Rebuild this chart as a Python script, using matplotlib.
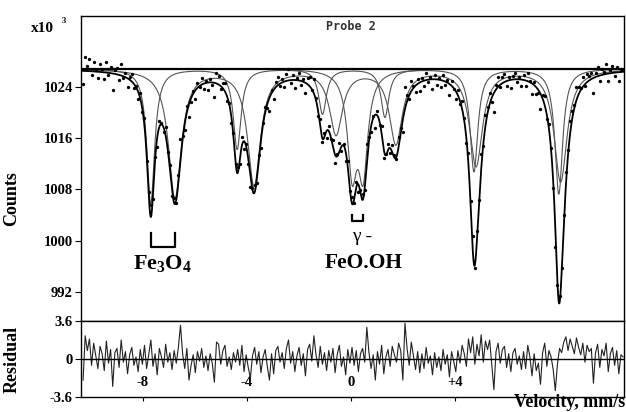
import numpy as np
import matplotlib.pyplot as plt

# velocity range of the spectrum (mm/s), 256 channels
v_min, v_max, n_chan = -10.3, 10.45, 256
baseline = 1026.8  # x10^3 counts

# sub-spectra: line positions (mm/s), depths (x10^3 counts), half widths (mm/s)
siteA_pos = [-7.70, -4.38, -1.10, 1.30, 4.72, 7.98]
siteA_depth = [21.0, 12.5, 7.0, 7.5, 16.0, 19.5]
siteA_hw = 0.18
siteB_pos = [-6.77, -3.73, -0.58, 1.72, 4.80, 8.05]
siteB_depth = [20.0, 18.0, 10.0, 11.5, 15.0, 17.5]
siteB_hw = 0.30
doublet_pos = [0.04, 0.46]
doublet_depth = [15.0, 15.0]
doublet_hw = 0.22

# residual per channel (x10^3 counts)
residual = [
    -2.0, 2.2, 0.8, 1.9, -0.6, 1.5, 0.3, -0.9, 1.2, 0.5, -1.1, 1.7, -0.4, 0.9, -2.6, 0.6,
    1.0, -0.8, 1.8, -0.3, 0.7, -1.4, 0.4, 1.1, -0.6, 0.2, -1.2, 0.9, -0.5, 1.3, -0.9, 0.4,
    1.8, -0.7, 0.5, -1.5, 1.0, 0.2, -0.8, 1.4, -0.3, 0.6, -1.0, 0.8, -0.4, 1.1, 3.2, 0.5,
    -0.9, 1.0, -2.0, -0.6, 0.4, -1.3, 0.7, -0.2, 1.0, -0.8, 0.3, -1.1, 0.5, -0.4, -2.2, 1.6,
    1.4, -0.5, 0.8, 1.3, -0.7, 0.2, -1.0, 0.6, -0.3, 0.9, -0.6, 1.3, -1.2, 0.4, -0.8, -1.8,
    0.3, 1.1, -0.5, 0.7, -1.3, 0.2, 0.9, -0.7, -2.0, 0.5, -1.4, 0.8, 1.2, -0.3, 0.6, -0.9,
    1.0, 1.8, -0.4, 0.7, -1.2, 0.3, 1.1, -0.6, 0.5, -1.6, 0.9, 1.4, -0.2, 2.2, 0.4, -0.8,
    1.2, -0.5, 0.6, -1.1, 0.8, -0.3, 1.0, -1.3, 0.4, 1.3, -0.7, 0.2, -1.5, 0.9, -0.4, 1.1,
    -0.6, 0.8, -1.2, 0.5, 1.0, -0.3, 3.0, 0.6, -0.9, 0.4, -2.0, 0.7, -0.5, 1.3, -1.4, 0.2,
    0.9, -0.7, 1.2, 0.4, -0.3, 1.5, 0.8, -2.0, 3.4, 1.0, -0.6, 1.6, 0.3, -1.0, 0.7, -1.3,
    0.5, -0.9, 1.1, -0.4, 0.3, -1.5, 0.6, -0.8, 0.2, -1.1, 0.9, -0.5, 0.4, -1.7, 0.7, -0.2,
    -1.2, 0.8, -0.4, 1.3, 0.5, -0.7, 1.9, 0.6, 2.1, -0.5, 1.4, 0.3, 2.3, -0.3, 1.7, 0.9,
    1.8, -0.6, -2.9, 0.7, 1.5, -0.4, 0.9, 1.2, -0.8, 0.5, -1.2, 0.6, 1.0, -0.5, 0.3, -1.0,
    0.7, -0.9, 1.3, 0.2, -1.6, 0.5, -1.1, -0.4, -2.4, 0.6, 1.5, -0.7, 0.8, 0.2, -1.0, -3.0,
    -0.5, 1.0, 0.6, 1.6, 2.1, 0.8, 1.9, 1.2, 0.5, 2.0, 1.1, 0.4, 1.5, -0.3, 1.3, 0.7,
    1.0, -2.3, 0.6, 1.4, -0.8, 0.9, 0.3, 1.5, -1.2, 0.5, 1.1, -0.6, 0.8, -1.4, 0.4, 0.2,
]

count_ticks = [992, 1000, 1008, 1016, 1024]
res_ticks = [-3.6, 0, 3.6]
res_labels = ["-3.6", "0", "3.6"]
vel_ticks = [-8, -4, 0, 4]
vel_labels = ["-8", "-4", "0", "+4"]


def absorption(v, pos, depth, hw):
    out = np.zeros_like(v)
    for p, d in zip(pos, depth):
        out += d / (1 + ((v - p) / hw) ** 2)
    return out


plt.rcParams["font.family"] = "Liberation Serif"
plt.rcParams["font.weight"] = "bold"
plt.rcParams["axes.labelweight"] = "bold"
plt.rcParams["mathtext.fontset"] = "custom"
plt.rcParams["mathtext.rm"] = "Liberation Serif:bold"

fig = plt.figure(figsize=(6.26, 4.12), dpi=100)
ax = fig.add_axes([0.1294, 0.2209, 0.868, 0.7403])
axr = fig.add_axes([0.1294, 0.0364, 0.868, 0.1845])

vfine = np.linspace(v_min - 0.2, v_max + 0.2, 2000)
compA = absorption(vfine, siteA_pos, siteA_depth, siteA_hw)
compB = absorption(vfine, siteB_pos, siteB_depth, siteB_hw)
compD = absorption(vfine, doublet_pos, doublet_depth, doublet_hw)

v = np.linspace(v_min, v_max, n_chan)
fit_ch = baseline - (absorption(v, siteA_pos, siteA_depth, siteA_hw)
                     + absorption(v, siteB_pos, siteB_depth, siteB_hw)
                     + absorption(v, doublet_pos, doublet_depth, doublet_hw))
counts = fit_ch + np.array(residual)

for comp in (compA, compB, compD):
    ax.plot(vfine, baseline - comp, color="#555555", lw=0.8)
ax.axhline(baseline, color="black", lw=1.6)
ax.plot(vfine, baseline - compA - compB - compD, color="black", lw=1.3)
ax.plot(v, counts, "o", color="black", ms=2.4, mew=0)

ax.set_xlim(-10.38, 10.5)
ax.set_ylim(987.5, 1035.0)
ax.set_yticks(count_ticks)
ax.set_yticklabels([str(t) for t in count_ticks])
ax.set_xticks([])
ax.tick_params(axis="y", direction="out", length=4, labelsize=10.5, pad=2)
ax.set_ylabel("Counts", fontsize=13)
ax.yaxis.set_label_coords(-0.112, 0.4)

fig.text(0.05, 0.915, "x10", fontsize=11, ha="left", va="bottom")
fig.text(0.099, 0.94, "3", fontsize=6, ha="left", va="bottom")
ax.text(0.45, 0.965, "Probe 2", transform=ax.transAxes, fontsize=8.5,
        family="DejaVu Sans Mono", weight="bold", color="#333333", va="center")

# phase markers
ya, yb = 1001.2, 999.0
ax.plot([siteA_pos[0], siteA_pos[0], siteB_pos[0], siteB_pos[0]], [ya, yb, yb, ya],
        color="black", lw=1.6)
ax.text((siteA_pos[0] + siteB_pos[0]) / 2, 996.5, r"$\mathrm{Fe_3O_4}$", fontsize=16,
        ha="center", va="center")
ya, yb = 1004.0, 1003.0
ax.plot([doublet_pos[0], doublet_pos[0], doublet_pos[1], doublet_pos[1]], [ya, yb, yb, ya],
        color="black", lw=1.6)
ax.text(0.42, 1000.6, "γ -", fontsize=14, weight="normal", ha="center", va="center")
ax.text(0.5, 996.6, "FeO.OH", fontsize=15.5, ha="center", va="center")

axr.plot(v, residual, color="#222222", lw=0.8)
axr.axhline(0, color="black", lw=1.0)
axr.set_xlim(-10.38, 10.5)
axr.set_ylim(-3.6, 3.6)
axr.set_yticks(res_ticks)
axr.set_yticklabels(res_labels)
axr.set_xticks(vel_ticks)
axr.set_xticklabels(vel_labels)
axr.tick_params(axis="y", direction="out", length=4, labelsize=10.5, pad=2)
axr.tick_params(axis="x", direction="out", length=3, labelsize=10.5, pad=-18)
axr.set_ylabel("Residual", fontsize=13)
axr.yaxis.set_label_coords(-0.112, 0.5)
fig.text(0.999, 0.002, "Velocity, mm/s", fontsize=13, ha="right", va="bottom")

for a in (ax, axr):
    for s in a.spines.values():
        s.set_linewidth(1.0)

fig.savefig("out.png", dpi=100)
